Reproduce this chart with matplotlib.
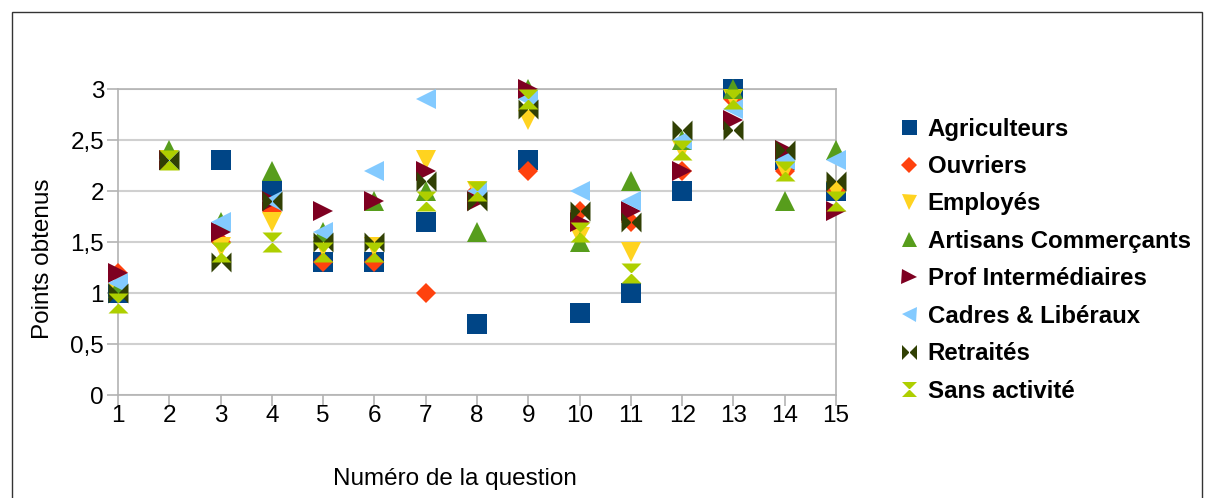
import numpy as np
import matplotlib.pyplot as plt
from matplotlib.path import Path
from matplotlib.patches import Rectangle

plt.rcParams['font.family'] = ['Liberation Sans', 'DejaVu Sans']

questions = np.arange(1, 16)
series_names = ["Agriculteurs", "Ouvriers", "Employés", "Artisans Commerçants",
                "Prof Intermédiaires", "Cadres & Libéraux", "Retraités", "Sans activité"]

# values, question 1 to 15
agriculteurs = [1.0, 2.3, 2.3, 2.0, 1.3, 1.3, 1.7, 0.7, 2.3, 0.8, 1.0, 2.0, 3.0, 2.3, 2.0]
ouvriers     = [1.2, 2.3, 1.5, 1.8, 1.3, 1.3, 1.0, 2.0, 2.2, 1.8, 1.7, 2.2, 2.9, 2.2, 2.0]
employes     = [1.0, 2.3, 1.45, 1.7, 1.45, 1.45, 2.3, 2.0, 2.7, 1.55, 1.4, 2.4, 2.9, 2.2, 2.0]
artisans     = [1.05, 2.4, 1.7, 2.2, 1.6, 1.9, 2.0, 1.6, 3.0, 1.5, 2.1, 2.5, 3.0, 1.9, 2.4]
prof         = [1.2, 2.3, 1.6, 1.9, 1.8, 1.9, 2.2, 1.9, 3.0, 1.7, 1.8, 2.2, 2.7, 2.4, 1.8]
cadres       = [1.1, 2.3, 1.7, 1.9, 1.6, 2.2, 2.9, 2.0, 2.9, 2.0, 1.9, 2.5, 2.8, 2.3, 2.3]
retraites    = [1.0, 2.3, 1.3, 1.9, 1.5, 1.5, 2.1, 1.9, 2.8, 1.8, 1.7, 2.6, 2.6, 2.4, 2.1]
sans_activite = [0.9, 2.3, 1.4, 1.5, 1.4, 1.4, 1.9, 2.0, 2.9, 1.6, 1.2, 2.4, 2.9, 2.2, 1.9]

all_series = [agriculteurs, ouvriers, employes, artisans, prof, cadres, retraites, sans_activite]
colors = ["#004586", "#ff420e", "#ffd320", "#579d1c", "#7e0021", "#83caff", "#314004", "#aecf00"]

bowtie = Path([(-1, -1), (-1, 1), (0, 0), (-1, -1), (1, -1), (1, 1), (0, 0), (1, -1)],
              [1, 2, 2, 79, 1, 2, 2, 79])
hourglass = Path([(-1, 1), (1, 1), (0, 0), (-1, 1), (-1, -1), (1, -1), (0, 0), (-1, -1)],
                 [1, 2, 2, 79, 1, 2, 2, 79])
markers = ["s", "D", "v", "^", ">", "<", bowtie, hourglass]
sizes = [14.4, 10.2, 14.4, 14.4, 14.4, 14.4, 14.4, 14.4]

fig = plt.figure(figsize=(12.05, 4.98), dpi=100)
ax = fig.add_axes([118 / 1205, 103 / 498, 718 / 1205, 306 / 498])

for name, vals, c, m, s in zip(series_names, all_series, colors, markers, sizes):
    ax.plot(questions, vals, linestyle="none", marker=m, markersize=s, color=c,
            markeredgewidth=0, label=name, clip_on=False, zorder=3)

ax.set_xlim(1, 15)
ax.set_ylim(0, 3)
ax.set_xticks(questions)
ax.set_yticks([0, 0.5, 1, 1.5, 2, 2.5, 3])
ax.set_yticklabels(["0", "0,5", "1", "1,5", "2", "2,5", "3"])
ax.tick_params(axis="both", labelsize=17.5, colors="#b3b3b3", labelcolor="black",
               length=8, width=1.2, direction="out")
ax.tick_params(axis="x", pad=-1)
ax.tick_params(axis="y", pad=2)
ax.grid(axis="y", color="#d0d0d0", linewidth=1.5)
ax.set_axisbelow(True)
for sp in ax.spines.values():
    sp.set_color("#b3b3b3")
    sp.set_linewidth(1.2)

ax.set_xlabel("Numéro de la question", fontsize=17.5)
ax.xaxis.set_label_coords(0.469, -0.24)
ax.set_ylabel("Points obtenus", fontsize=17.5, labelpad=12)
ax.yaxis.label.set_y(0.444)

leg = fig.legend(loc="upper left", bbox_to_anchor=(875 / 1205, 1 - 96 / 498),
                 frameon=False, markerscale=0.75, handletextpad=0.3,
                 labelspacing=0.6, handlelength=1.0,
                 prop={"weight": "bold", "size": 17.3})

fig.patches.append(Rectangle((12 / 1205, -0.05), 1190 / 1205, 1.05 - 12 / 498,
                             transform=fig.transFigure, fill=False,
                             edgecolor="#333333", linewidth=1))

fig.savefig("out.png", dpi=100)
